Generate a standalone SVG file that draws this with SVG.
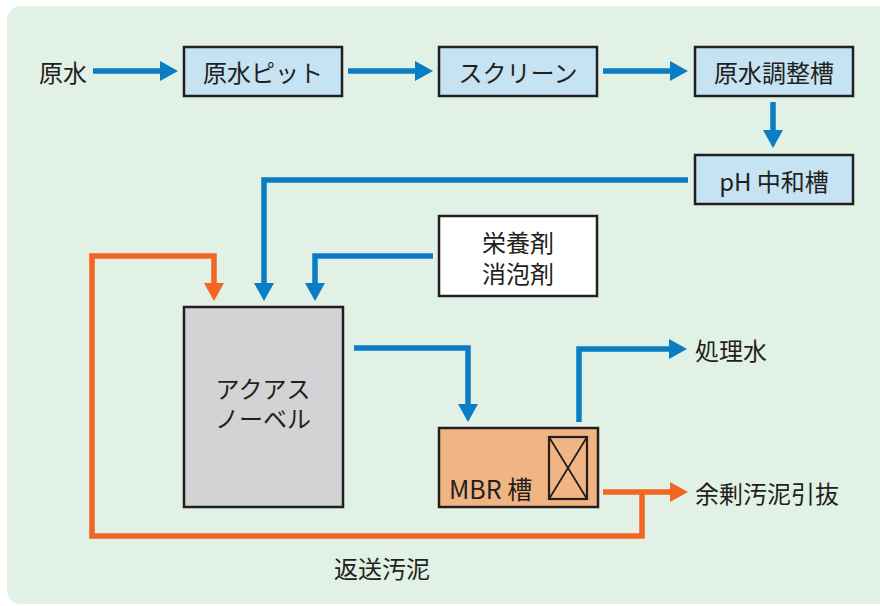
<svg xmlns="http://www.w3.org/2000/svg" width="880" height="606" viewBox="0 0 880 606">
<defs>
<style>
.t{font-family:"Noto Sans CJK JP","Noto Sans",sans-serif;font-size:24px;fill:#231f20;}
.c{text-anchor:middle;dominant-baseline:central;}
.box{stroke:#231f20;stroke-width:2.5;}
.blue{fill:none;stroke:#0a7dc5;stroke-width:5.5;stroke-linejoin:miter;}
.orange{fill:none;stroke:#f26522;stroke-width:5.5;stroke-linejoin:miter;}
</style>
<marker id="ab" markerUnits="userSpaceOnUse" markerWidth="18" markerHeight="20" refX="0" refY="10" orient="auto" viewBox="0 0 18 20"><path d="M0,0 L18,10 L0,20 z" fill="#0a7dc5"/></marker>
<marker id="ao" markerUnits="userSpaceOnUse" markerWidth="18" markerHeight="20" refX="0" refY="10" orient="auto" viewBox="0 0 18 20"><path d="M0,0 L18,10 L0,20 z" fill="#f26522"/></marker>
</defs>
<rect x="7" y="6" width="890" height="598" rx="14" fill="#e1f1e6"/>
<g id="connectors">
<path class="blue" d="M93,71 H160" marker-end="url(#ab)"/>
<path class="blue" d="M348,71 H415" marker-end="url(#ab)"/>
<path class="blue" d="M603,71 H670" marker-end="url(#ab)"/>
<path class="blue" d="M773,102 V130" marker-end="url(#ab)"/>
<path class="blue" d="M688,180 H264 V283" marker-end="url(#ab)"/>
<path class="blue" d="M433,256 H315 V283" marker-end="url(#ab)"/>
<path class="blue" d="M354,348 H468 V404" marker-end="url(#ab)"/>
<path class="blue" d="M579,422 V349 H669" marker-end="url(#ab)"/>
<path class="orange" d="M603,492 H670" marker-end="url(#ao)"/>
<path class="orange" d="M642,492 V536 H92 V256 H214 V283" marker-end="url(#ao)"/>
</g>
<g id="genmizu"><text class="t c" x="63" y="71">原水</text></g>
<g id="pit"><rect class="box" x="184" y="47" width="158" height="49" fill="#c5e3f3"/><text class="t c" x="263" y="71">原水ピット</text></g>
<g id="screen"><rect class="box" x="439" y="47" width="158" height="49" fill="#c5e3f3"/><text class="t c" x="518" y="71">スクリーン</text></g>
<g id="chousei"><rect class="box" x="695" y="47" width="158" height="49" fill="#c5e3f3"/><text class="t c" x="774" y="71">原水調整槽</text></g>
<g id="ph"><rect class="box" x="695" y="155" width="158" height="49" fill="#c5e3f3"/><text class="t c" x="774" y="180">pH 中和槽</text></g>
<g id="eiyou"><rect class="box" x="439" y="216" width="158" height="80" fill="#ffffff"/><text class="t c" x="518" y="241">栄養剤</text><text class="t c" x="518" y="272">消泡剤</text></g>
<g id="aquas"><rect class="box" x="184" y="307" width="159" height="200" fill="#d3d3d5"/><text class="t c" x="263" y="387">アクアス</text><text class="t c" x="263" y="417">ノーベル</text></g>
<g id="mbr"><rect class="box" x="439" y="428" width="159" height="79" fill="#f1b584"/><rect x="549" y="437" width="38" height="62" fill="none" stroke="#231f20" stroke-width="2.2"/><path d="M549,437 L587,499 M587,437 L549,499" stroke="#231f20" stroke-width="1.8" fill="none"/><text class="t" x="449" y="499" style="font-size:25px">MBR 槽</text></g>
<g id="shori"><text class="t" x="695" y="349" style="dominant-baseline:central">処理水</text></g>
<g id="yojou"><text class="t" x="695" y="492" style="dominant-baseline:central">余剰汚泥引抜</text></g>
<g id="hensou"><text class="t c" x="382" y="567">返送汚泥</text></g>
</svg>
